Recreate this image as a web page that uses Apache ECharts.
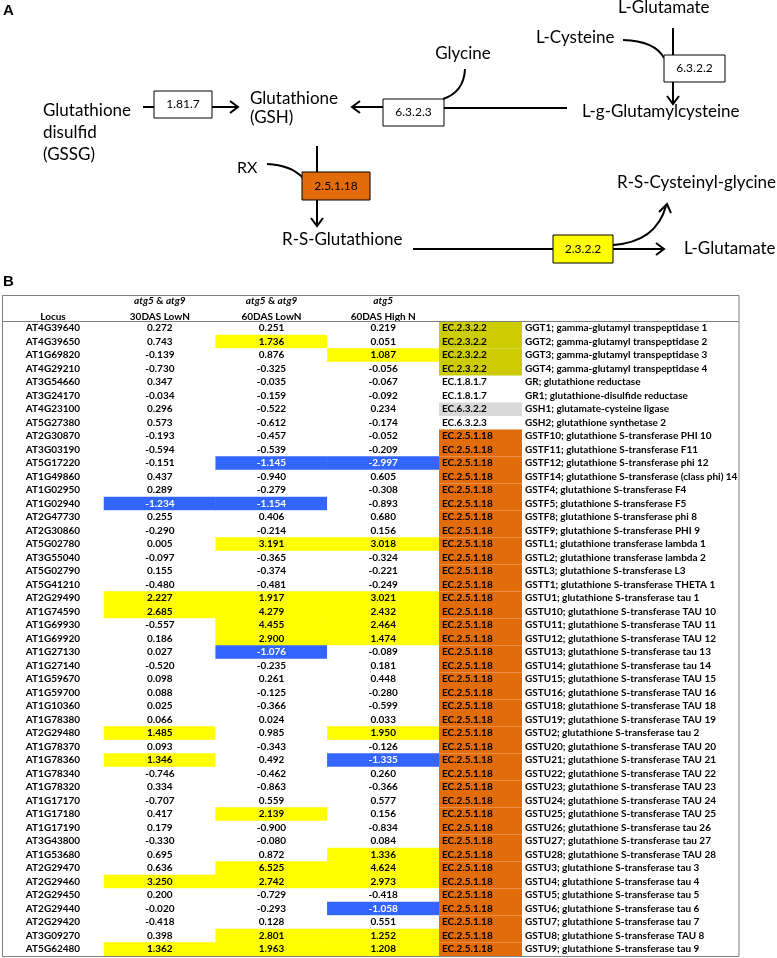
<!DOCTYPE html>
<html><head><meta charset="utf-8">
<script src="https://cdn.jsdelivr.net/npm/echarts/dist/echarts.min.js"></script>
<style>html,body{margin:0;padding:0;background:#fff}#c{width:777px;height:958px}</style>
</head><body><div id="c"></div>
<script>
// ---------- DATA ----------
const loci = ['AT4G39640','AT4G39650','AT1G69820','AT4G29210','AT3G54660','AT3G24170','AT4G23100','AT5G27380','AT2G30870','AT3G03190','AT5G17220','AT1G49860','AT1G02950','AT1G02940','AT2G47730','AT2G30860','AT5G02780','AT3G55040','AT5G02790','AT5G41210','AT2G29490','AT1G74590','AT1G69930','AT1G69920','AT1G27130','AT1G27140','AT1G59670','AT1G59700','AT1G10360','AT1G78380','AT2G29480','AT1G78370','AT1G78360','AT1G78340','AT1G78320','AT1G17170','AT1G17180','AT1G17190','AT3G43800','AT1G53680','AT2G29470','AT2G29460','AT2G29450','AT2G29440','AT2G29420','AT3G09270','AT5G62480'];
const v30DasLowN = [0.272,0.743,-0.139,-0.730,0.347,-0.034,0.296,0.573,-0.193,-0.594,-0.151,0.437,0.289,-1.234,0.255,-0.290,0.005,-0.097,0.155,-0.480,2.227,2.685,-0.557,0.186,0.027,-0.520,0.098,0.088,0.025,0.066,1.485,0.093,1.346,-0.746,0.334,-0.707,0.417,0.179,-0.330,0.695,0.636,3.250,0.200,-0.020,-0.418,0.398,1.362];
const v60DasLowN = [0.251,1.736,0.876,-0.325,-0.035,-0.159,-0.522,-0.612,-0.457,-0.539,-1.145,-0.940,-0.279,-1.154,0.406,-0.214,3.191,-0.365,-0.374,-0.481,1.917,4.279,4.455,2.900,-1.076,-0.235,0.261,-0.125,-0.366,0.024,0.985,-0.343,0.492,-0.462,-0.863,0.559,2.139,-0.900,-0.080,0.872,6.525,2.742,-0.729,-0.293,0.128,2.801,1.963];
const v60DasHighN = [0.219,0.051,1.087,-0.056,-0.067,-0.092,0.234,-0.174,-0.052,-0.209,-2.997,0.605,-0.308,-0.893,0.680,0.156,3.018,-0.324,-0.221,-0.249,3.021,2.432,2.464,1.474,-0.089,0.181,0.448,-0.280,-0.599,0.033,1.950,-0.126,-1.335,0.260,-0.366,0.577,0.156,-0.834,0.084,1.336,4.624,2.973,-0.418,-1.058,0.551,1.252,1.208];
const headGenotype = ['atg5 & atg9','atg5 & atg9','atg5'];
const headCondition = ['30DAS LowN','60DAS LowN','60DAS High N'];
const ecCodes = ['EC.2.3.2.2','EC.2.3.2.2','EC.2.3.2.2','EC.2.3.2.2','EC.1.8.1.7','EC.1.8.1.7','EC.6.3.2.2','EC.6.3.2.3'].concat(Array(39).fill('EC.2.5.1.18'));
const descriptions = ['GGT1; gamma-glutamyl transpeptidase 1','GGT2; gamma-glutamyl transpeptidase 2','GGT3; gamma-glutamyl transpeptidase 3','GGT4; gamma-glutamyl transpeptidase 4','GR; glutathione reductase','GR1; glutathione-disulfide reductase','GSH1; glutamate-cysteine ligase','GSH2; glutathione synthetase 2','GSTF10; glutathione S-transferase PHI 10','GSTF11; glutathione S-transferase F11','GSTF12; glutathione S-transferase phi 12','GSTF14; glutathione S-transferase (class phi) 14','GSTF4; glutathione S-transferase F4','GSTF5; glutathione S-transferase F5','GSTF8; glutathione S-transferase phi 8','GSTF9; glutathione S-transferase PHI 9','GSTL1; glutathione transferase lambda 1','GSTL2; glutathione transferase lambda 2','GSTL3; glutathione S-transferase L3','GSTT1; glutathione S-transferase THETA 1','GSTU1; glutathione S-transferase tau 1','GSTU10; glutathione S-transferase TAU 10','GSTU11; glutathione S-transferase TAU 11','GSTU12; glutathione S-transferase TAU 12','GSTU13; glutathione S-transferase tau 13','GSTU14; glutathione S-transferase tau 14','GSTU15; glutathione S-transferase TAU 15','GSTU16; glutathione S-transferase TAU 16','GSTU18; glutathione S-transferase TAU 18','GSTU19; glutathione S-transferase TAU 19','GSTU2; glutathione S-transferase tau 2','GSTU20; glutathione S-transferase TAU 20','GSTU21; glutathione S-transferase TAU 21','GSTU22; glutathione S-transferase TAU 22','GSTU23; glutathione S-transferase TAU 23','GSTU24; glutathione S-transferase TAU 24','GSTU25; glutathione S-transferase TAU 25','GSTU26; glutathione S-transferase tau 26','GSTU27; glutathione S-transferase tau 27','GSTU28; glutathione S-transferase TAU 28','GSTU3; glutathione S-transferase tau 3','GSTU4; glutathione S-transferase tau 4','GSTU5; glutathione S-transferase tau 5','GSTU6; glutathione S-transferase tau 6','GSTU7; glutathione S-transferase tau 7','GSTU8; glutathione S-transferase TAU 8','GSTU9; glutathione S-transferase tau 9'];

// ---------- STYLE ----------
const FF = 'Lato, "Open Sans", sans-serif';
const TS = 10; // table font size
const PS = 17; // pathway font size
const ecColor = {'EC.2.3.2.2':'#CCCC00','EC.6.3.2.2':'#D9D9D9','EC.2.5.1.18':'#E26B0A'};
const YEL = '#FFFF00', BLU = '#3366FF';
const TOP = 321.5, ROWS_H = 634.5;

const series3 = [v30DasLowN, v60DasLowN, v60DasHighN];
const heatData = [];
series3.forEach((arr, c) => arr.forEach((v, r) => {
  heatData.push({value:[c, r, v], label:{color: v < -1 ? '#ffffff' : '#000000'}});
}));

// ---------- PATHWAY DIAGRAM (graphic) ----------
const G = [];
function T(x, y, s, size, opt) {
  opt = opt || {};
  G.push({type:'text', x:x, y:y, z:100, style:{text:s, fill:opt.fill||'#000',
    font:(opt.bold?'bold ':'') + size + 'px ' + (opt.family||FF),
    align:opt.align||'left', textAlign:opt.align||'left',
    verticalAlign:'middle', textVerticalAlign:'middle'}});
}
function L(x1,y1,x2,y2){ G.push({type:'line', z:100, shape:{x1,y1,x2,y2}, style:{stroke:'#000', lineWidth:2}}); }
function P(pts){ G.push({type:'polyline', z:100, shape:{points:pts}, style:{stroke:'#000', lineWidth:2, fill:null}}); }
function Q(x1,y1,cx,cy,x2,y2){ G.push({type:'bezierCurve', z:100, shape:{x1,y1,x2,y2,cpx1:cx,cpy1:cy}, style:{stroke:'#000', lineWidth:2, fill:null}}); }
function B(x,y,w,h,fill,label){
  G.push({type:'rect', z:100, shape:{x,y,width:w,height:h}, style:{fill:fill, stroke:'#000', lineWidth:1}});
  T(x+w/2, y+h/2, label, 12, {align:'center'});
}
T(3, 11, 'A', 15, {bold:true, family:'"Liberation Sans", Arial, sans-serif'});
T(3, 282, 'B', 15, {bold:true, family:'"Liberation Sans", Arial, sans-serif'});

// GSSG -> GSH
T(43, 111, 'Glutathione', PS); T(43, 133, 'disulfid', PS); T(43, 155, '(GSSG)', PS);
L(143,107,154,107); B(154,91,58,27,'#fff','1.81.7');
L(212,107,237,107); P([[230,101],[238,107],[230,113]]);
T(250, 99, 'Glutathione', PS); T(250, 118, '(GSH)', PS);
// 6.3.2.3
L(383,107,353,107); P([[360,101],[352,107],[360,113]]);
B(383,99,61,27,'#fff','6.3.2.3');
L(444,108,567,108);
T(463, 54, 'Glycine', PS, {align:'center'});
Q(465,69,464,92,443,99);
// 6.3.2.2
T(618, 8, 'L-Glutamate', PS);
T(536, 38, 'L-Cysteine', PS);
L(673,28,673,55);
Q(623,40,655,41,664,58);
B(664,55,61,27,'#fff','6.3.2.2');
L(673,82,673,103); P([[667,96],[673,104],[679,96]]);
T(582, 112, 'L-g-Glutamylcysteine', PS);
// 2.5.1.18
T(237, 168, 'RX', 16);
Q(267,164,291,165,303,178);
L(317,146,317,172);
B(302,172,68,28,'#E26B0A','2.5.1.18');
L(317,200,317,225); P([[311,218],[317,226],[323,218]]);
T(282, 240, 'R-S-Glutathione', PS);
// 2.3.2.2
L(413,249,553,249);
B(553,235,60,28,'#FFFF00','2.3.2.2');
L(613,249,662,249); P([[656,243],[664,249],[656,255]]);
T(684, 249, 'L-Glutamate', PS);
T(617, 183, 'R-S-Cysteinyl-glycine', PS);
Q(613,245,656,242,666,206); P([[659,212],[667,204],[671,213]]);

// ---------- TABLE frame ----------
G.push({type:'rect', z:50, shape:{x:2.5,y:295.5,width:736.5,height:661}, style:{fill:null, stroke:'#808080', lineWidth:1}});
G.push({type:'line', z:50, shape:{x1:2.5,y1:321.5,x2:739,y2:321.5}, style:{stroke:'#808080', lineWidth:1}});
T(53, 317, 'Locus', TS, {bold:true, align:'center'});

const chart = echarts.init(document.getElementById('c'));
chart.setOption({
  animation:false,
  backgroundColor:'#fff',
  grid:[
    {left:104, top:TOP, width:335, height:ROWS_H},
    {left:439, top:TOP, width:83, height:ROWS_H}
  ],
  xAxis:[
    {gridIndex:0, type:'category', data:headCondition, position:'top',
     axisLine:{show:false}, axisTick:{show:false}, splitLine:{show:false},
     axisLabel:{interval:0, margin:-3, lineHeight:15.5, fontFamily:FF, fontSize:TS, fontWeight:'bold', color:'#000',
       formatter:(v,i)=> headGenotype[i].replace(/atg\d/g, m=>'{i|'+m+'}') + '\n' + v,
       rich:{i:{fontStyle:'italic', fontWeight:'bold', fontFamily:FF, fontSize:TS, color:'#000', lineHeight:15.5}}}},
    {gridIndex:1, type:'category', data:['EC'], show:false}
  ],
  yAxis:[
    {gridIndex:0, type:'category', data:loci, inverse:true,
     axisLine:{show:false}, axisTick:{show:false}, splitLine:{show:false},
     axisLabel:{interval:0, align:'center', margin:51, fontFamily:FF, fontSize:TS, fontWeight:'bold', color:'#000'}},
    {gridIndex:1, type:'category', data:descriptions, inverse:true, position:'right',
     axisLine:{show:false}, axisTick:{show:false}, splitLine:{show:false},
     axisLabel:{interval:0, align:'left', margin:3, fontFamily:FF, fontSize:TS, fontWeight:'bold', color:'#000'}}
  ],
  visualMap:{show:false, type:'piecewise', seriesIndex:0, dimension:2,
    pieces:[{gt:1, color:YEL},{lt:-1, color:BLU},{gte:-1, lte:1, color:'#ffffff'}]},
  series:[
    {type:'heatmap', xAxisIndex:0, yAxisIndex:0, data:heatData,
     label:{show:true, fontFamily:FF, fontSize:TS, fontWeight:'bold',
       formatter:p=>p.value[2].toFixed(3)},
     emphasis:{disabled:true}},
    {type:'custom', xAxisIndex:1, yAxisIndex:1, data:ecCodes.map((c,i)=>[0,i]),
     renderItem:(params, api)=>{
       const p = api.coord([0, api.value(1)]);
       const s = api.size([1,1]);
       const code = ecCodes[params.dataIndex];
       const x0 = p[0]-s[0]/2, y0 = p[1]-s[1]/2;
       return {type:'group', children:[
         {type:'rect', shape:{x:x0, y:y0, width:s[0], height:s[1]}, style:{fill:ecColor[code]||'rgba(0,0,0,0)'}},
         {type:'text', x:x0+3, y:p[1], style:{text:code, fill:'#000', font:'bold '+TS+'px '+FF,
           align:'left', textAlign:'left', verticalAlign:'middle', textVerticalAlign:'middle'}}
       ]};
     }}
  ],
  graphic:G
});
</script></body></html>
